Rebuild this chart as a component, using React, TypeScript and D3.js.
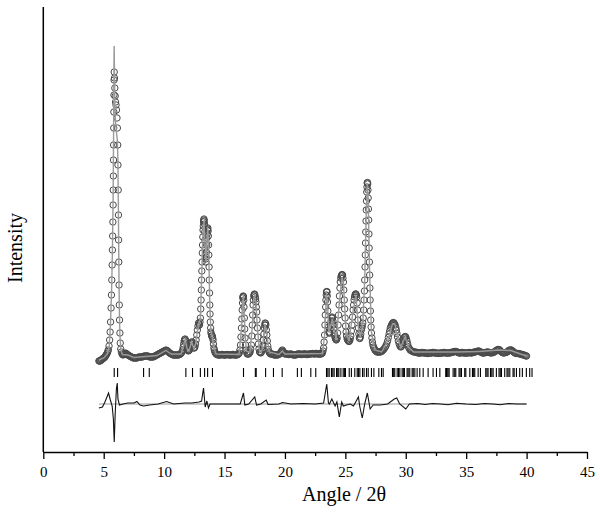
import React, { useEffect, useRef } from "react";
import * as d3 from "d3";

// observed profile, [2theta, counts]
const observedLow: [number, number][] = [
  [4.6, 600], [4.65, 600], [4.7, 600], [4.75, 650], [4.8, 700], [4.85, 750], [4.9, 800], [4.95, 850],
  [5.0, 900], [5.05, 950], [5.1, 1000], [5.15, 1100], [5.2, 1200], [5.25, 1300], [5.3, 1400], [5.34, 1550],
  [5.38, 1700], [5.44, 2100], [5.49, 2700], [5.53, 3500], [5.57, 4500], [5.61, 5900], [5.64, 7200],
  [5.67, 8700], [5.7, 10200], [5.72, 11700], [5.74, 13100], [5.76, 14500], [5.78, 16200], [5.79, 17700],
  [5.8, 19100], [5.81, 20700], [5.82, 22200], [5.83, 23900], [5.84, 25500], [5.85, 27200], [5.86, 28700],
  [5.87, 29500], [5.89, 28900], [5.92, 27900], [5.95, 27100], [5.98, 26500], [6.02, 26200], [6.06, 25700],
  [6.1, 24900], [6.13, 23900], [6.16, 22200], [6.18, 20200], [6.2, 17700], [6.22, 15200], [6.23, 12700],
  [6.25, 10500], [6.27, 8200], [6.29, 6200], [6.31, 4700], [6.34, 3400], [6.37, 2400], [6.41, 1800],
  [6.46, 1500], [6.52, 1300], [6.56, 1250], [6.6, 1200], [6.65, 1250], [6.7, 1300], [6.75, 1350],
  [6.8, 1400], [6.85, 1350], [6.9, 1300], [6.95, 1250], [7.0, 1200], [7.08, 1150], [7.15, 1100],
  [7.22, 1050], [7.3, 1000], [7.38, 950], [7.45, 900], [7.52, 900], [7.6, 900], [7.68, 900], [7.75, 900],
  [7.82, 950], [7.9, 1000], [7.98, 1000], [8.05, 1000], [8.12, 1000], [8.2, 1000], [8.28, 1050],
  [8.35, 1100], [8.42, 1100], [8.5, 1100], [8.58, 1100], [8.65, 1100], [8.72, 1050], [8.8, 1000],
  [8.88, 1000], [8.95, 1000], [9.02, 1000], [9.1, 1000], [9.18, 1050], [9.25, 1100], [9.32, 1150],
  [9.4, 1200], [9.48, 1250], [9.55, 1300], [9.62, 1350], [9.7, 1400], [9.78, 1450], [9.85, 1500],
  [9.92, 1550], [10.0, 1600], [10.08, 1650], [10.15, 1700], [10.22, 1650], [10.3, 1600], [10.38, 1500],
  [10.45, 1400], [10.52, 1350], [10.6, 1300], [10.68, 1250], [10.75, 1200], [10.82, 1200], [10.9, 1200],
  [10.98, 1200],
];

const observedMid: [number, number][] = [
  [11.05, 1200], [11.12, 1200], [11.2, 1200], [11.28, 1250], [11.35, 1300], [11.42, 1400], [11.48, 1500],
  [11.53, 1700], [11.58, 2000], [11.62, 2300], [11.66, 2600], [11.7, 2750], [11.74, 2800], [11.78, 2650],
  [11.82, 2400], [11.86, 2100], [11.9, 1800], [11.95, 1700], [12.0, 1600], [12.05, 1650], [12.1, 1700],
  [12.15, 1900], [12.2, 2200], [12.24, 2350], [12.28, 2500], [12.32, 2500], [12.36, 2400], [12.4, 2150],
  [12.45, 1900], [12.5, 1900], [12.55, 2000], [12.6, 2300], [12.65, 2700], [12.7, 3200], [12.75, 3700],
  [12.8, 4100], [12.85, 4400], [12.89, 4300], [12.93, 4200], [12.97, 4500], [13.0, 4900], [13.03, 5800],
  [13.06, 6700], [13.08, 7700], [13.1, 8700], [13.12, 9600], [13.14, 10500], [13.16, 11400], [13.18, 12200],
  [13.2, 13000], [13.22, 13700], [13.24, 14100], [13.26, 14500], [13.28, 14700], [13.3, 14800],
  [13.32, 14600], [13.34, 14300], [13.36, 13500], [13.38, 12700], [13.4, 11900], [13.42, 11200],
  [13.44, 10800], [13.46, 10500], [13.48, 11000], [13.5, 11500], [13.52, 12200], [13.54, 12900],
  [13.56, 13300], [13.58, 13700], [13.6, 13800], [13.62, 13900], [13.64, 13600], [13.66, 13100],
  [13.68, 12200], [13.7, 11200], [13.72, 10000], [13.74, 8700], [13.76, 7400], [13.78, 6200], [13.8, 5300],
  [13.82, 4500], [13.85, 3900], [13.87, 3500], [13.9, 3300], [13.93, 3100], [13.96, 3100], [13.99, 3100],
  [14.02, 2900], [14.05, 2700], [14.08, 2300], [14.12, 1900], [14.16, 1700], [14.2, 1500], [14.25, 1400],
  [14.3, 1300], [14.37, 1250], [14.45, 1200], [14.52, 1200], [14.6, 1200], [14.68, 1200], [14.75, 1250],
  [14.82, 1250], [14.9, 1200], [14.98, 1200], [15.05, 1200], [15.12, 1200], [15.2, 1250], [15.28, 1250],
  [15.35, 1200], [15.42, 1200], [15.5, 1200], [15.58, 1200], [15.65, 1250], [15.72, 1250], [15.8, 1200],
  [15.88, 1200], [15.95, 1200], [16.02, 1200], [16.1, 1250], [16.16, 1300], [16.22, 1400], [16.27, 1700],
  [16.32, 2200], [16.36, 3000], [16.4, 3900], [16.43, 4800], [16.46, 5700], [16.49, 6400], [16.51, 6900],
  [16.53, 7050], [16.55, 7100], [16.57, 7000], [16.59, 6700], [16.61, 6000], [16.64, 4900], [16.67, 3800],
  [16.7, 2900], [16.74, 2200], [16.78, 1700], [16.83, 1450], [16.88, 1300], [16.94, 1300], [17.0, 1300],
  [17.06, 1400], [17.12, 1500], [17.17, 1800], [17.22, 2200], [17.26, 3100], [17.3, 4200], [17.33, 5200],
  [17.36, 6200], [17.39, 6700], [17.42, 7100], [17.45, 7250], [17.48, 7300], [17.51, 7200], [17.54, 7000],
  [17.57, 6800], [17.6, 6500], [17.63, 6000], [17.66, 5500], [17.69, 4700], [17.72, 3900], [17.76, 3000],
  [17.8, 2300], [17.85, 1800], [17.9, 1500], [17.95, 1450], [18.0, 1400], [18.06, 1500], [18.12, 1700],
  [18.17, 2100], [18.22, 2700], [18.26, 3300], [18.3, 3900], [18.33, 4200], [18.36, 4400], [18.39, 4350],
  [18.42, 4200], [18.46, 3700], [18.5, 3200], [18.54, 2600], [18.58, 2100], [18.63, 1750], [18.68, 1500],
  [18.74, 1400], [18.8, 1300], [18.88, 1300], [18.95, 1300], [19.02, 1250], [19.1, 1200], [19.18, 1200],
  [19.25, 1200], [19.32, 1200], [19.4, 1200], [19.48, 1250], [19.55, 1300], [19.62, 1400], [19.68, 1500],
  [19.73, 1600], [19.78, 1700], [19.83, 1600], [19.88, 1500], [19.94, 1400], [20.0, 1300],
];

const observedHigh: [number, number][] = [
  [20.08, 1300], [20.15, 1300], [20.22, 1300], [20.3, 1250], [20.38, 1250], [20.45, 1300], [20.52, 1300],
  [20.6, 1250], [20.68, 1200], [20.75, 1200], [20.82, 1200], [20.9, 1200], [20.98, 1250], [21.05, 1300],
  [21.12, 1300], [21.2, 1300], [21.28, 1300], [21.35, 1250], [21.42, 1250], [21.5, 1300], [21.58, 1300],
  [21.65, 1300], [21.72, 1300], [21.8, 1250], [21.88, 1250], [21.95, 1300], [22.02, 1300], [22.1, 1300],
  [22.18, 1300], [22.25, 1350], [22.32, 1350], [22.4, 1300], [22.48, 1300], [22.55, 1350], [22.62, 1350],
  [22.7, 1300], [22.78, 1300], [22.85, 1300], [22.92, 1300], [23.0, 1300], [23.05, 1350], [23.1, 1400],
  [23.15, 1600], [23.2, 1900], [23.24, 2500], [23.28, 3200], [23.31, 4200], [23.34, 5200], [23.37, 6000],
  [23.39, 6700], [23.42, 7200], [23.44, 7500], [23.46, 7550], [23.48, 7500], [23.5, 7100], [23.52, 6500],
  [23.55, 5600], [23.58, 4700], [23.61, 4000], [23.64, 3500], [23.67, 3400], [23.7, 3400], [23.74, 3800],
  [23.78, 4200], [23.82, 4600], [23.86, 4900], [23.9, 5000], [23.93, 4900], [23.97, 4600], [24.0, 4200],
  [24.04, 3800], [24.08, 3400], [24.12, 3100], [24.16, 2900], [24.2, 2800], [24.24, 2700], [24.28, 2750],
  [24.32, 2900], [24.36, 3400], [24.4, 4200], [24.44, 5200], [24.48, 6200], [24.51, 7100], [24.55, 7900],
  [24.58, 8500], [24.62, 8900], [24.66, 9100], [24.7, 9200], [24.73, 9250], [24.77, 9200], [24.8, 8900],
  [24.84, 8500], [24.87, 7700], [24.91, 6700], [24.94, 5800], [24.98, 4900], [25.02, 4100], [25.06, 3500],
  [25.1, 3100], [25.15, 2800], [25.2, 2700], [25.25, 2600], [25.3, 2550], [25.35, 2600], [25.4, 2800],
  [25.45, 3100], [25.5, 3600], [25.55, 4200], [25.6, 5000], [25.64, 5700], [25.68, 6200], [25.72, 6700],
  [25.76, 7000], [25.8, 7200], [25.84, 7300], [25.87, 7300], [25.91, 7200], [25.94, 7000], [25.98, 6400],
  [26.01, 5700], [26.05, 4700], [26.08, 3900], [26.12, 3300], [26.16, 2900], [26.2, 2850], [26.24, 3000],
  [26.28, 3300], [26.32, 3700], [26.36, 3900], [26.4, 4100], [26.44, 4400], [26.48, 4900], [26.52, 5700],
  [26.55, 6700], [26.58, 7600], [26.6, 8700], [26.63, 10000], [26.65, 11200], [26.67, 12400],
  [26.69, 13500], [26.71, 14600], [26.73, 15700], [26.75, 16600], [26.77, 17500], [26.79, 18000],
  [26.81, 18400], [26.83, 18450], [26.85, 18300], [26.87, 17700], [26.89, 16900], [26.91, 15800],
  [26.93, 14700], [26.95, 13300], [26.97, 11900], [26.99, 10500], [27.01, 9200], [27.03, 7900],
  [27.05, 6700], [27.07, 5600], [27.1, 4700], [27.13, 4000], [27.16, 3400], [27.2, 2900], [27.24, 2500],
  [27.28, 2200], [27.33, 2000], [27.39, 1850], [27.45, 1700], [27.52, 1600], [27.6, 1500], [27.68, 1500],
  [27.75, 1500], [27.82, 1500], [27.9, 1500], [27.98, 1550], [28.05, 1600], [28.12, 1700], [28.2, 1800],
  [28.28, 1950], [28.35, 2100], [28.42, 2300], [28.5, 2600], [28.56, 2950], [28.62, 3300], [28.67, 3600],
  [28.72, 3900], [28.77, 4050], [28.82, 4200], [28.87, 4300], [28.92, 4400], [28.97, 4450], [29.02, 4400],
  [29.07, 4300], [29.12, 4200], [29.17, 3950], [29.22, 3700], [29.27, 3350], [29.32, 3000], [29.38, 2600],
  [29.45, 2300], [29.52, 2100], [29.58, 2000], [29.64, 2050], [29.7, 2200], [29.75, 2450], [29.8, 2700],
  [29.85, 2900], [29.9, 3000], [29.95, 3050], [30.0, 3000], [30.05, 2800], [30.1, 2600], [30.16, 2300],
  [30.22, 2000], [30.29, 1850], [30.36, 1700], [30.43, 1650], [30.5, 1600], [30.58, 1550], [30.65, 1500],
  [30.72, 1500],
];

const observedTail: [number, number][] = [
  [30.8, 1500], [30.88, 1450], [30.95, 1450], [31.02, 1400], [31.1, 1400], [31.18, 1400], [31.25, 1400],
  [31.32, 1450], [31.4, 1450], [31.48, 1400], [31.55, 1400], [31.62, 1400], [31.7, 1400], [31.78, 1350],
  [31.85, 1350], [31.92, 1400], [32.0, 1400], [32.08, 1400], [32.15, 1400], [32.22, 1450], [32.3, 1450],
  [32.38, 1400], [32.45, 1400], [32.52, 1400], [32.6, 1400], [32.68, 1350], [32.75, 1350], [32.82, 1400],
  [32.9, 1400], [32.98, 1400], [33.05, 1400], [33.12, 1450], [33.2, 1450], [33.28, 1400], [33.35, 1400],
  [33.42, 1400], [33.5, 1400], [33.58, 1400], [33.65, 1400], [33.72, 1450], [33.8, 1450], [33.88, 1500],
  [33.95, 1500], [34.02, 1550], [34.1, 1550], [34.18, 1550], [34.25, 1500], [34.32, 1450], [34.4, 1400],
  [34.48, 1400], [34.55, 1400], [34.62, 1450], [34.7, 1450], [34.78, 1400], [34.85, 1400], [34.92, 1400],
  [35.0, 1400], [35.08, 1400], [35.15, 1400], [35.22, 1450], [35.3, 1450], [35.38, 1400], [35.45, 1400],
  [35.52, 1450], [35.6, 1450], [35.68, 1500], [35.75, 1500], [35.82, 1550], [35.9, 1550], [35.98, 1600],
  [36.05, 1600], [36.12, 1550], [36.2, 1500], [36.28, 1450], [36.35, 1400], [36.42, 1400], [36.5, 1400],
  [36.58, 1450], [36.65, 1450], [36.72, 1500], [36.8, 1500], [36.88, 1450], [36.95, 1450], [37.02, 1400],
  [37.1, 1400], [37.18, 1450], [37.25, 1450], [37.32, 1500], [37.4, 1550], [37.48, 1650], [37.55, 1700],
  [37.62, 1750], [37.7, 1750], [37.78, 1700], [37.85, 1600], [37.92, 1500], [38.0, 1450], [38.08, 1400],
  [38.15, 1400], [38.22, 1450], [38.3, 1450], [38.38, 1500], [38.45, 1550], [38.52, 1650], [38.6, 1700],
  [38.68, 1700], [38.75, 1700], [38.82, 1600], [38.9, 1550], [38.98, 1450], [39.05, 1400], [39.12, 1350],
  [39.2, 1350], [39.28, 1350], [39.35, 1350], [39.42, 1300], [39.5, 1300], [39.58, 1250], [39.65, 1250],
  [39.72, 1200], [39.8, 1200], [39.88, 1150], [39.95, 1100], [40.0, 1100],
];

// calculated profile vertices
const calculated: [number, number][] = [
  [4.6, 700], [5.0, 900], [5.3, 1300], [5.45, 2000], [5.55, 4000], [5.65, 7500], [5.72, 11500],
  [5.78, 17000], [5.82, 24000], [5.85, 30500], [5.865, 32100], [5.88, 30500], [5.92, 26500], [5.98, 24500],
  [6.05, 23500], [6.12, 22800], [6.17, 21000], [6.21, 16500], [6.25, 10500], [6.29, 6000], [6.34, 3200],
  [6.42, 1700], [6.55, 1250], [7.0, 1200], [7.5, 950], [8.5, 1050], [9.4, 1150], [10.15, 1650], [10.6, 1300],
  [11.4, 1300], [11.58, 2000], [11.74, 2800], [11.9, 1800], [12.05, 1600], [12.28, 2500], [12.45, 1900],
  [12.6, 2300], [12.85, 4300], [13.0, 4800], [13.1, 8700], [13.2, 13000], [13.3, 14600], [13.38, 12500],
  [13.46, 10600], [13.54, 12800], [13.62, 13800], [13.7, 11000], [13.78, 6300], [13.87, 3600], [13.98, 3100],
  [14.12, 1900], [14.3, 1300], [16.2, 1250], [16.4, 3800], [16.5, 6600], [16.55, 7000], [16.64, 4800],
  [16.8, 1600], [17.1, 1450], [17.3, 4100], [17.42, 6900], [17.5, 7200], [17.6, 6400], [17.72, 3900],
  [17.9, 1500], [18.1, 1650], [18.36, 4300], [18.5, 3200], [18.7, 1500], [19.5, 1250], [19.78, 1600],
  [20.0, 1300], [23.1, 1350], [23.28, 3100], [23.44, 7300], [23.52, 6400], [23.64, 3500], [23.93, 4800],
  [24.24, 2700], [24.48, 6100], [24.72, 9000], [24.84, 8400], [25.06, 3500], [25.3, 2600], [25.64, 5600],
  [25.87, 7200], [26.08, 3900], [26.24, 3000], [26.44, 4300], [26.6, 8600], [26.73, 15600], [26.82, 18300],
  [26.89, 16800], [27.01, 9300], [27.16, 3500], [27.45, 1700], [28.0, 1500], [28.5, 2600], [28.9, 4300],
  [29.1, 4300], [29.3, 3000], [29.58, 2000], [29.95, 3000], [30.22, 2000], [30.65, 1500], [34.1, 1500],
  [36.05, 1550], [37.7, 1700], [38.7, 1650], [39.5, 1300], [40.0, 1100],
];

// obs - calc
const difference: [number, number][] = [
  [4.6, -400], [4.9, -300], [5.1, 200], [5.4, 1100], [5.55, 400], [5.7, -200], [5.8, -1500], [5.87, -3800],
  [5.95, -1000], [6.05, 1500], [6.12, 2100], [6.18, 500], [6.3, -100], [6.6, 0], [7.0, 100], [7.5, 100],
  [7.75, 250], [8.0, -100], [8.3, -200], [8.8, -100], [9.5, 0], [10.2, 250], [10.8, 0], [11.7, 100],
  [12.3, 100], [12.9, 200], [13.1, 300], [13.26, 1600], [13.4, -300], [13.54, 300], [13.67, -400],
  [13.8, 0], [14.5, 0], [16.3, 0], [16.57, 1100], [16.68, -100], [17.0, 0], [17.5, 700], [17.65, -100],
  [18.0, 0], [18.45, 400], [18.6, -50], [19.5, 0], [19.8, 150], [20.5, 0], [21.5, 50], [22.5, 0],
  [23.2, 100], [23.46, 2000], [23.6, 100], [23.68, 0], [23.88, 500], [24.15, -200], [24.3, 200],
  [24.5, -1300], [24.7, 200], [24.83, -200], [25.1, -100], [25.4, 0], [25.67, -200], [25.9, 300],
  [26.08, 700], [26.2, -300], [26.4, -1400], [26.6, 0], [26.82, 1100], [27.05, -500], [27.3, -100],
  [27.9, -100], [28.5, 0], [29.05, 500], [29.25, 600], [29.5, 0], [30.0, -500], [30.3, 0], [31.0, 50],
  [31.6, -50], [32.2, 50], [32.9, 0], [33.5, -80], [34.2, 80], [35.0, 0], [35.8, -50], [36.5, 50],
  [37.2, 0], [37.8, -80], [38.5, 50], [39.2, 0], [40.0, 0],
];

// Bragg reflection positions
const reflections: number[] = [
  5.87, 6.15, 8.3, 8.77, 11.8, 12.35, 13.0, 13.35, 13.6, 14.0, 16.57, 17.55, 17.62, 18.4, 19.05, 19.77,
  21.03, 21.36, 22.14, 22.55, 23.44, 23.55, 23.66, 23.85, 23.96, 24.07, 24.27, 24.37, 24.46, 24.63, 24.82,
  24.92, 25.01, 25.32, 25.5, 25.78, 25.98, 26.08, 26.2, 26.42, 26.55, 26.75, 26.89, 27.16, 27.36, 27.77,
  27.99, 28.13, 28.9, 29.0, 29.09, 29.29, 29.4, 29.51, 29.7, 29.8, 29.89, 30.11, 30.2, 30.33, 30.53, 30.62,
  30.75, 30.94, 31.16, 31.44, 31.85, 32.26, 32.54, 32.82, 33.31, 33.37, 33.42, 33.5, 33.59, 33.92, 34.05,
  34.14, 34.41, 34.5, 34.61, 34.88, 34.97, 35.3, 35.52, 35.62, 35.71, 35.99, 36.18, 36.62, 36.72, 36.81,
  37.01, 37.12, 37.23, 37.5, 37.72, 37.82, 37.92, 38.19, 38.38, 38.47, 38.61, 38.88, 38.97, 39.16, 39.43,
  39.65, 39.98, 40.26, 40.45,
];

const xTicks = [0, 5, 10, 15, 20, 25, 30, 35, 40, 45];
const xMinorTicks = [2.5, 7.5, 12.5, 17.5, 22.5, 27.5, 32.5, 37.5, 42.5];

const DIFF_OFFSET = -3700;
const TICK_TOP = -100;
const TICK_BOTTOM = -1000;

const FONT = "'Liberation Serif', 'Times New Roman', serif";

const App = () => {
  const svgRef = useRef<SVGSVGElement>(null);

  useEffect(() => {
    if (!svgRef.current) return;
    const svg = d3.select(svgRef.current);
    svg.selectAll("*").remove();

    const x = d3.scaleLinear().domain([0, 45]).range([43.3, 587]);
    const y = d3.scaleLinear().domain([-8500, 36000]).range([452, 7]);

    const observed = [...observedLow, ...observedMid, ...observedHigh, ...observedTail];

    // difference zero line and curve
    const diffExtent = d3.extent(difference, (d) => d[0]) as [number, number];
    svg
      .append("line")
      .attr("x1", x(diffExtent[0]))
      .attr("x2", x(diffExtent[1]))
      .attr("y1", y(DIFF_OFFSET))
      .attr("y2", y(DIFF_OFFSET))
      .attr("stroke", "#9a9a9a")
      .attr("stroke-width", 1);

    const diffLine = d3
      .line<[number, number]>()
      .x((d) => x(d[0]))
      .y((d) => y(d[1] + DIFF_OFFSET));
    svg
      .append("path")
      .datum(difference)
      .attr("d", diffLine)
      .attr("fill", "none")
      .attr("stroke", "#111")
      .attr("stroke-width", 1.1);

    // reflection markers
    svg
      .append("g")
      .selectAll("line")
      .data(reflections)
      .join("line")
      .attr("x1", (d) => x(d))
      .attr("x2", (d) => x(d))
      .attr("y1", y(TICK_TOP))
      .attr("y2", y(TICK_BOTTOM))
      .attr("stroke", "#000")
      .attr("stroke-width", 1.1);

    // observed points
    svg
      .append("g")
      .selectAll("circle")
      .data(observed)
      .join("circle")
      .attr("cx", (d) => x(d[0]))
      .attr("cy", (d) => y(d[1]))
      .attr("r", 3.2)
      .attr("fill", "none")
      .attr("stroke", "#4a4a4a")
      .attr("stroke-width", 1);

    // calculated profile
    const calcLine = d3
      .line<[number, number]>()
      .x((d) => x(d[0]))
      .y((d) => y(d[1]));
    svg
      .append("path")
      .datum(calculated)
      .attr("d", calcLine)
      .attr("fill", "none")
      .attr("stroke", "#9a9a9a")
      .attr("stroke-width", 1.4);

    // axes
    const xAxis = svg
      .append("g")
      .attr("transform", `translate(0,${y(-8500)})`)
      .call(d3.axisBottom(x).tickValues(xTicks).tickSize(7).tickSizeOuter(0).tickPadding(7));
    xAxis.attr("font-family", FONT).attr("font-size", 15);
    xAxis.select(".domain").attr("stroke-width", 1.5);
    xAxis.selectAll(".tick line").attr("stroke-width", 1.3);
    xAxis
      .selectAll("text")
      .style("font-family", FONT)
      .style("font-size", "15px")
      .attr("fill", "#000");

    const minor = svg
      .append("g")
      .attr("transform", `translate(0,${y(-8500)})`)
      .call(d3.axisBottom(x).tickValues(xMinorTicks).tickSize(4).tickFormat(() => ""));
    minor.select(".domain").remove();
    minor.selectAll(".tick line").attr("stroke-width", 1.3);

    svg
      .append("line")
      .attr("x1", x(0))
      .attr("x2", x(0))
      .attr("y1", y(36000))
      .attr("y2", y(-8500))
      .attr("stroke", "#000")
      .attr("stroke-width", 1.5);

    svg
      .append("text")
      .attr("x", 344)
      .attr("y", 501)
      .attr("text-anchor", "middle")
      .style("font-family", FONT)
      .style("font-size", "20px")
      .text("Angle / 2θ");

    svg
      .append("text")
      .attr("transform", "translate(22,248) rotate(-90)")
      .attr("text-anchor", "middle")
      .style("font-family", FONT)
      .style("font-size", "20px")
      .text("Intensity");
  }, []);

  return (
    <svg
      ref={svgRef}
      width={600}
      height={524}
      style={{ position: "absolute", left: 0, top: 0, background: "#fff" }}
    />
  );
};

export default App;
